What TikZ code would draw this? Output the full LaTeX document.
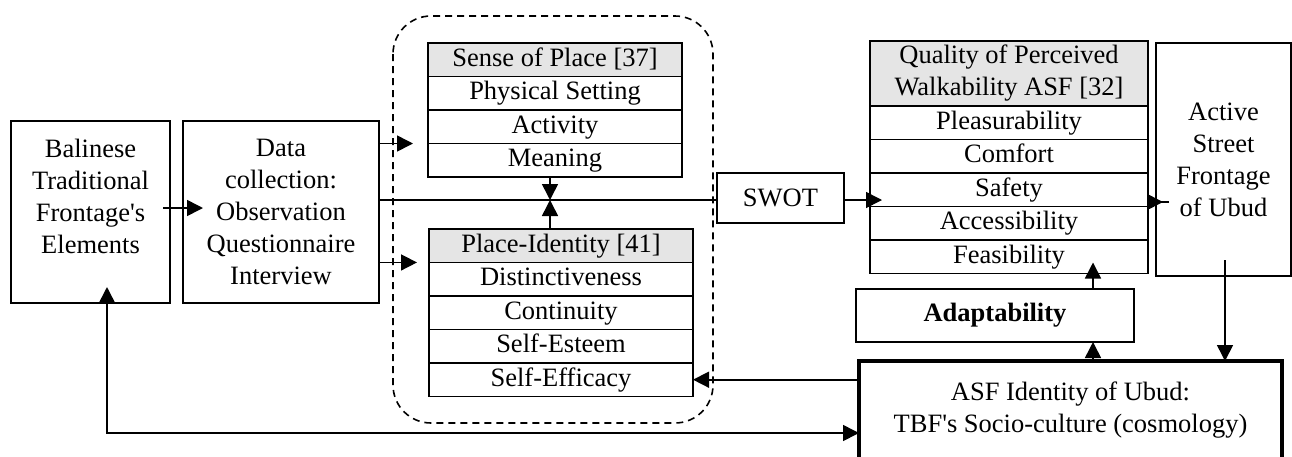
\documentclass[tikz,border=0pt]{standalone}
\usepackage{fontspec}
\setmainfont{Liberation Serif}
\usetikzlibrary{positioning, calc, arrows.meta}

\tikzset{
	box/.style = {draw, line width=1.6pt, align=center, inner sep=0pt, outer sep=0pt},
	cell/.style = {draw, line width=1.4pt, inner sep=0pt, outer sep=0pt, minimum height=33.5pt, align=center},
	row/.style = {cell, text height=19pt, text depth=6pt},
	head/.style = {fill=gray!20},
	wire/.style = {line width=1.6pt},
	arr/.style = {wire, -{Triangle[length=16pt, width=16pt]}},
	arrboth/.style = {wire, {Triangle[length=16pt, width=16pt]}-{Triangle[length=16pt, width=16pt]}},
}

\begin{document}
\begin{tikzpicture}[x=1pt, y=-1pt, font=\fontsize{26.5pt}{32pt}\selectfont]
	\useasboundingbox (0,0) rectangle (1292,456);
	\clip (0,0) rectangle (1292,456);
	
	\coordinate (join) at (550,200);
	\coordinate (upx) at (1093,0);
	\coordinate (downx) at (1225,0);
	\coordinate (fb) at (107,433);
	
	\begin{scope}
		\node [box, minimum width=159pt, minimum height=182pt] (bal) at (90.5,212) {Balinese\\Traditional\\Frontage\textquotesingle s\\Elements\\~};
		\node [box, minimum width=196pt, minimum height=182pt] (data) at (281,212) {Data\\collection:\\Observation\\Questionnaire\\Interview};
		
		\draw [wire, dash pattern=on 7pt off 5pt, rounded corners=38pt] (393,16) rectangle (713,423);
	\end{scope}
	
	\begin{scope}[every node/.append style={minimum width=254pt}]
		\node [row, head] (sp0) at (555,59.75) {Sense of Place [37]};
		\node [row, below=0pt of sp0] (sp1) {Physical Setting};
		\node [row, below=0pt of sp1] (sp2) {Activity};
		\node [row, below=0pt of sp2] (sp3) {Meaning};
	\end{scope}
	
	\begin{scope}[every node/.append style={minimum width=264pt, minimum height=33.4pt}]
		\node [row, head] (pi0) at (561,245.7) {Place-Identity [41]};
		\node [row, below=0pt of pi0] (pi1) {Distinctiveness};
		\node [row, below=0pt of pi1] (pi2) {Continuity};
		\node [row, below=0pt of pi2] (pi3) {Self-Esteem};
		\node [row, below=0pt of pi3] (pi4) {Self-Efficacy};
	\end{scope}
	
	\node [box, minimum width=127pt, minimum height=50pt] (swot) at (780.5,198) {SWOT};
	
	\begin{scope}[every node/.append style={minimum width=278pt, minimum height=33.4pt}]
		\node [cell, head, minimum height=65pt] (q0) at (1009,73.5) {Quality of Perceived\\Walkability ASF [32]};
		\node [row, below=0pt of q0] (q1) {Pleasurability};
		\node [row, below=0pt of q1] (q2) {Comfort};
		\node [row, below=0pt of q2] (q3) {Safety};
		\node [row, below=0pt of q3] (q4) {Accessibility};
		\node [row, below=0pt of q4] (q5) {Feasibility};
	\end{scope}
	
	\node [box, minimum width=135pt, minimum height=233pt] (act) at (1223.5,159.5) {Active\\Street\\Frontage\\of Ubud};
	\node [box, minimum width=278pt, minimum height=53pt] (ad) at (995,315.5) {\textbf{Adaptability}};
	\node [box, line width=4pt, minimum width=423pt, minimum height=98pt] (asf) at (1070.5,410) {ASF Identity of Ubud:\\TBF\textquotesingle s Socio-culture (cosmology)};
	
	\begin{scope}
		\draw [arr, shorten <=-7pt, shorten >=-20pt] ([yshift=4pt]bal.east) -- ([yshift=4pt]data.west);
		\draw [arr, shorten >=15pt] (data.east |- sp2.south) -- (sp2.south west);
		\draw [arr, shorten >=12pt] (data.east |- pi0.south) -- (pi0.south west);
		\draw [wire] (data.east |- join) -- (join -| swot.west);
		\draw [arr] (sp3.south -| join) -- (join);
		\draw [arr] (pi0.north -| join) -- (join);
		\draw [arr, shorten >=-12pt] (swot.east |- join) -- (join -| q0.west);
		\draw [arr, shorten <=-21pt, shorten >=-7pt] ([yshift=-2pt]join -| q0.east) -- ([yshift=-2pt]join -| act.west);
	\end{scope}
	
	\begin{scope}
		\draw [arr] (asf.west |- pi4.east) -- (pi4.east);
		\draw [arr] (asf.north -| upx) -- (ad.south -| upx);
		\draw [arr, shorten >=-11pt] (ad.north -| upx) -- (q5.south -| upx);
		\draw [arr, shorten <=-16pt] (act.south -| downx) -- (asf.north -| downx);
		\draw [arrboth, shorten <=-16pt] (bal.south -| fb) |- (fb -| asf.west);
	\end{scope}
\end{tikzpicture}
\end{document}
